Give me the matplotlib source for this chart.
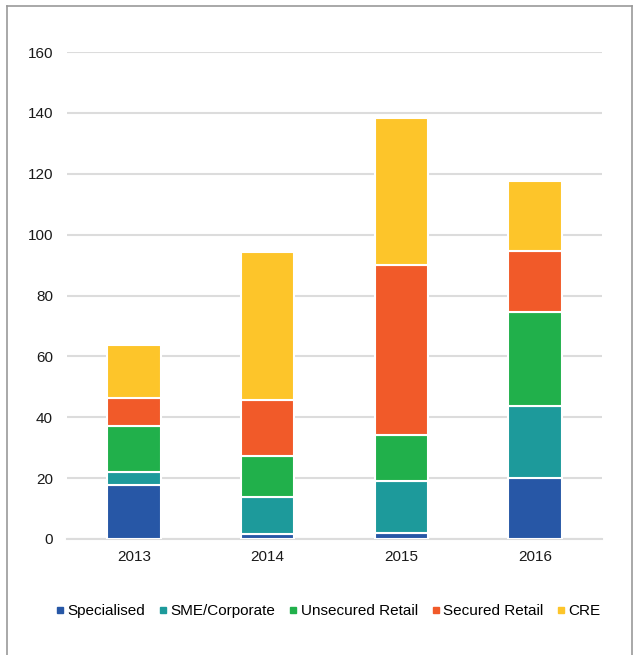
import numpy as np
import matplotlib.pyplot as plt
from matplotlib.lines import Line2D

plt.rcParams["font.family"] = ["Liberation Sans", "DejaVu Sans"]

years = ["2013", "2014", "2015", "2016"]
series = ["Specialised", "SME/Corporate", "Unsecured Retail", "Secured Retail", "CRE"]
specialised = [17.7, 1.6, 2.1, 20.1]
sme = [4.4, 12.1, 17.1, 23.5]
unsecured = [15.0, 13.5, 14.9, 30.9]
secured = [9.1, 18.5, 55.9, 20.0]
cre = [17.6, 48.6, 48.2, 23.2]
colours = ["#2757a6", "#1d9a9b", "#21b04b", "#f15a29", "#fdc52a"]

W, H = 643, 655
fig = plt.figure(figsize=(W / 100, H / 100), dpi=100)
ax = fig.add_axes([67 / W, 1 - 539 / H, 535 / W, (539 - 52) / H])

x = np.arange(len(years))
bottom = np.zeros(len(years))
for vals, col in zip([specialised, sme, unsecured, secured, cre], colours):
    ax.bar(x, vals, 0.4, bottom=bottom, color=col, edgecolor="white",
           linewidth=1.5, zorder=3)
    bottom += np.array(vals)

ax.set_xlim(-0.5, 3.5)
ax.set_ylim(0, 160)
ax.set_yticks(range(0, 161, 20))
ax.set_xticks(x)
ax.set_xticklabels(years)
ax.tick_params(axis="both", length=0, labelsize=11, colors="#1a1a1a")
ax.tick_params(axis="y", pad=10)
ax.tick_params(axis="x", pad=8)
ax.grid(axis="y", color="#dcdcdc", linewidth=1.5, zorder=0)
for s in ["top", "right", "left"]:
    ax.spines[s].set_visible(False)
ax.spines["bottom"].set_color("#dcdcdc")
ax.spines["bottom"].set_linewidth(1.5)

handles = [Line2D([], [], marker="s", linestyle="none", markersize=4.5,
                  color=c) for c in colours]
fig.legend(handles, series, loc="center", bbox_to_anchor=(0.511, 1 - 611 / H),
           ncol=5, frameon=False, fontsize=11, handlelength=0.5,
           handletextpad=0.25, columnspacing=0.9)

# outer frame (no bottom edge)
frame = dict(color="#999999", linewidth=1.2, transform=fig.transFigure)
fig.add_artist(Line2D([7 / W, 7 / W], [0, 1 - 6 / H], **frame))
fig.add_artist(Line2D([7 / W, 632 / W], [1 - 6 / H, 1 - 6 / H], **frame))
fig.add_artist(Line2D([632 / W, 632 / W], [0, 1 - 6 / H], **frame))

fig.savefig("out.png", dpi=100)
